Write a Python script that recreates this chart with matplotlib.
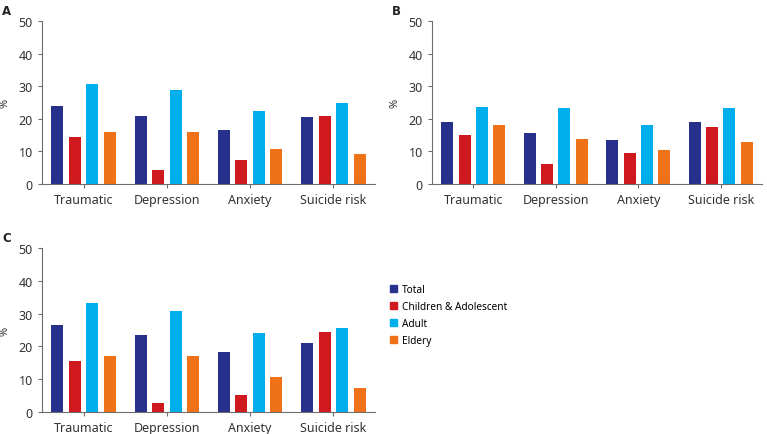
import numpy as np
import matplotlib.pyplot as plt
from matplotlib.patches import Patch

plt.rcParams['font.family'] = ['Noto Sans', 'DejaVu Sans']

categories = ['Traumatic', 'Depression', 'Anxiety', 'Suicide risk']
groups = ['Total', 'Children & Adolescent', 'Adult', 'Eldery']
colors = ['#27318b', '#d0181f', '#00aeeb', '#f07218']

# panel A
a_total = [24.0, 20.9, 16.7, 20.4]
a_child = [14.4, 4.3, 7.4, 20.9]
a_adult = [30.7, 28.8, 22.4, 24.9]
a_elder = [15.8, 15.8, 10.6, 9.3]

# panel B
b_total = [19.1, 15.7, 13.6, 19.0]
b_child = [15.1, 6.0, 9.6, 17.4]
b_adult = [23.7, 23.3, 18.0, 23.3]
b_elder = [18.1, 13.7, 10.5, 12.8]

# panel C
c_total = [26.5, 23.6, 18.4, 21.1]
c_child = [15.7, 2.6, 5.2, 24.4]
c_adult = [33.3, 30.8, 24.2, 25.6]
c_elder = [17.0, 17.0, 10.8, 7.4]

panels = {
    'A': [a_total, a_child, a_adult, a_elder],
    'B': [b_total, b_child, b_adult, b_elder],
    'C': [c_total, c_child, c_adult, c_elder],
}

W, H = 767, 435
boxes = {
    'A': (42, 375, 22, 185),
    'B': (432, 762, 22, 185),
    'C': (42, 375, 249, 413),
}

fig = plt.figure(figsize=(W / 100, H / 100), dpi=100)
axis_col = '#6e6e6e'

x = np.arange(len(categories))
step = 0.21
width = 0.145
for name, series in panels.items():
    l, r, t, b = boxes[name]
    ax = fig.add_axes([l / W, 1 - b / H, (r - l) / W, (b - t) / H])
    for i, vals in enumerate(series):
        ax.bar(x + (i - 1.5) * step, vals, width, color=colors[i])
    ax.set_xlim(-0.5, 3.5)
    ax.set_ylim(0, 50)
    ax.set_yticks([0, 10, 20, 30, 40, 50])
    ax.set_xticks(x)
    ax.set_xticklabels(categories)
    ax.tick_params(labelsize=9, colors='#333333', length=3, width=0.8)
    ax.tick_params(axis='both', color=axis_col)
    for s in ['top', 'right']:
        ax.spines[s].set_visible(False)
    for s in ['left', 'bottom']:
        ax.spines[s].set_color(axis_col)
        ax.spines[s].set_linewidth(0.8)
    ax.set_ylabel('%', fontsize=8, color='#333333', labelpad=6)
    fig.text((l - 40) / W, 1 - (t - 17) / H, name, fontsize=8.5,
             fontweight='bold', family='DejaVu Sans',
             va='top', ha='left', color='#222222')

handles = [Patch(color=c, label=g) for c, g in zip(colors, groups)]
fig.legend(handles=handles, loc='upper left', bbox_to_anchor=(386 / W, 1 - 281 / H),
           frameon=False, fontsize=7.3, handlelength=0.7, handleheight=0.7,
           handletextpad=0.5, labelspacing=0.6, borderaxespad=0)

fig.savefig('out.png', dpi=100)
